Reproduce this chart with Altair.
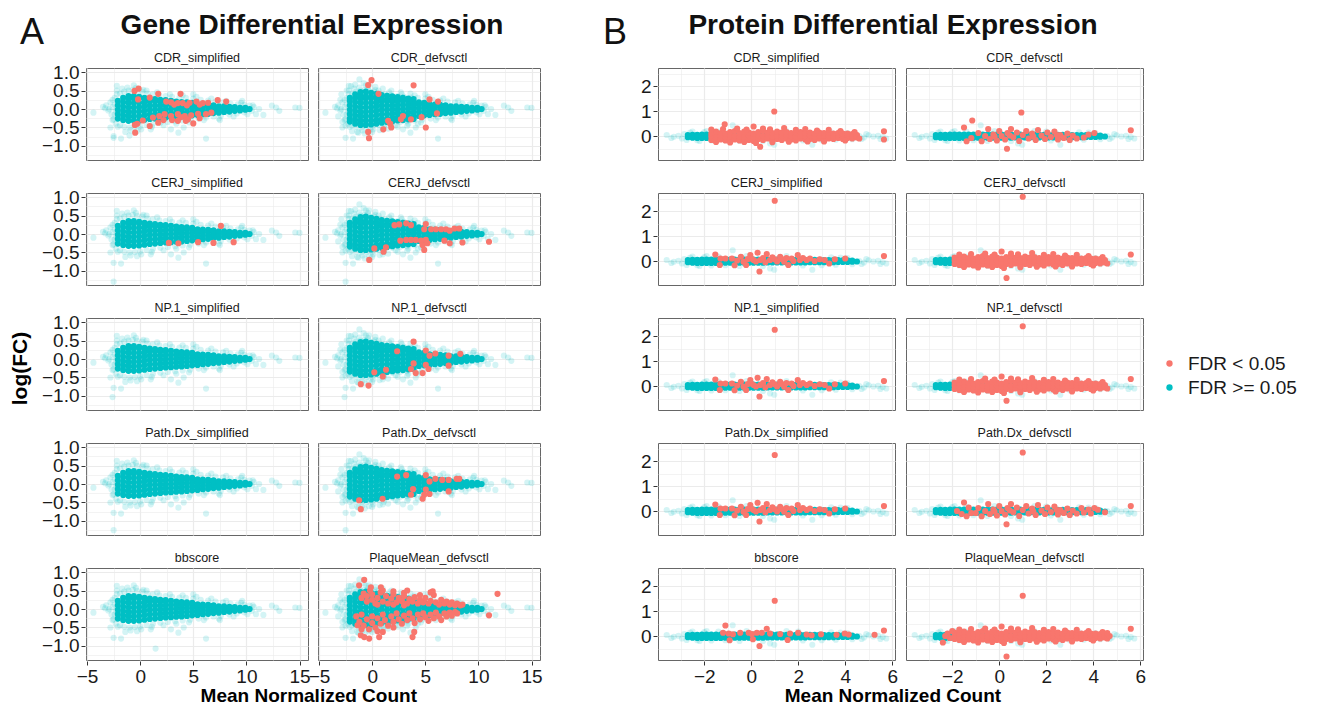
import altair as alt
import pandas as pd

FONT = "Liberation Sans"
STATUS = ["FDR < 0.05", "FDR >= 0.05"]
COLORS = ["#F8766D", "#00BFC4"]

PANELS = ["CDR_simplified", "CDR_defvsctl", "CERJ_simplified", "CERJ_defvsctl",
          "NP.1_simplified", "NP.1_defvsctl", "Path.Dx_simplified", "Path.Dx_defvsctl",
          "bbscore", "PlaqueMean_defvsctl"]
WIDE = ["CDR_defvsctl", "CERJ_defvsctl", "NP.1_defvsctl", "Path.Dx_defvsctl", "PlaqueMean_defvsctl"]

# ---------------- gene panels (A) ----------------
gene_core_cols = [
    (-2.1, [-0.26, -0.14, -0.02, 0.10, 0.22]),
    (-1.6, [-0.30, -0.18, -0.06, 0.06, 0.18, 0.30]),
    (-1.1, [-0.32, -0.20, -0.08, 0.04, 0.16, 0.28, 0.35]),
    (-0.6, [-0.32, -0.20, -0.08, 0.04, 0.16, 0.28, 0.35]),
    (-0.1, [-0.31, -0.19, -0.07, 0.05, 0.17, 0.29, 0.33]),
    (0.4, [-0.29, -0.17, -0.05, 0.07, 0.19, 0.30]),
    (0.9, [-0.27, -0.15, -0.03, 0.09, 0.20, 0.28]),
    (1.4, [-0.26, -0.14, -0.02, 0.09, 0.20, 0.27]),
    (1.9, [-0.24, -0.13, -0.02, 0.09, 0.20, 0.25]),
    (2.4, [-0.23, -0.12, -0.01, 0.10, 0.21, 0.24]),
    (2.9, [-0.22, -0.11, 0.00, 0.11, 0.22]),
    (3.4, [-0.21, -0.10, 0.01, 0.11, 0.20]),
    (3.9, [-0.20, -0.09, 0.02, 0.12, 0.19]),
    (4.4, [-0.19, -0.08, 0.02, 0.11, 0.18]),
    (4.9, [-0.17, -0.07, 0.03, 0.12, 0.17]),
    (5.4, [-0.16, -0.06, 0.04, 0.13]),
    (5.9, [-0.14, -0.05, 0.04, 0.12]),
    (6.4, [-0.13, -0.04, 0.05, 0.11]),
    (6.9, [-0.11, -0.02, 0.06, 0.10]),
    (7.4, [-0.10, -0.01, 0.07]),
    (7.9, [-0.08, 0.00, 0.07]),
    (8.4, [-0.07, 0.01, 0.06]),
    (8.9, [-0.05, 0.02, 0.05]),
    (9.4, [-0.04, 0.03]),
    (9.9, [-0.02, 0.03]),
    (10.3, [0.00]),
]
gene_fringe = [
    (-4.4, -0.10), (-3.5, 0.06), (-3.3, 0.02), (-3.2, 0.10), (-3.0, -0.04), (-2.8, 0.18),
    (-2.7, -0.15), (-2.6, 0.05), (-2.5, -0.28), (-2.4, 0.30), (-2.3, -0.05), (-2.2, 0.40), (-2.3, -0.40),
    (-1.9, 0.42), (-1.5, 0.47), (-1.1, 0.50), (-0.7, 0.52), (-0.3, 0.49), (0.2, 0.47), (0.7, 0.42),
    (1.2, 0.40), (1.8, 0.37), (2.4, 0.35), (3.0, 0.33), (3.7, 0.31), (4.3, 0.30), (5.0, 0.28),
    (5.7, 0.25), (6.4, 0.23), (7.1, 0.20), (7.8, 0.18), (8.5, 0.15), (9.2, 0.13), (9.8, 0.11), (10.3, 0.09),
    (-1.9, -0.44), (-1.5, -0.48), (-1.0, -0.50), (-0.5, -0.49), (0.0, -0.47), (0.6, -0.43), (1.2, -0.40),
    (1.9, -0.37), (2.6, -0.35), (3.3, -0.33), (4.0, -0.31), (4.7, -0.29), (5.5, -0.26), (6.2, -0.23),
    (6.9, -0.20), (7.6, -0.18), (8.4, -0.15), (9.1, -0.12), (9.8, -0.09), (10.5, -0.05),
    (-2.2, 0.63), (-0.6, 0.64), (0.3, 0.52), (-2.8, -0.50), (-2.5, -0.78), (-1.8, -0.80), (-1.4, -0.62),
    (-0.3, -0.60), (2.9, -0.55), (3.6, -0.64), (4.1, -0.50), (6.2, -0.80), (9.6, 0.22), (10.7, 0.05),
    (10.9, -0.14), (11.2, 0.00), (11.6, -0.16), (12.4, 0.09), (12.8, 0.04), (13.1, -0.05), (14.6, 0.04),
    (15.0, 0.03), (1.0, -0.55), (5.0, 0.40), (7.5, -0.30),
    (-2.6, 0.25), (-2.6, -0.30), (-2.4, 0.12), (-2.4, -0.15), (-2.9, 0.00), (-2.2, 0.50), (-2.1, -0.48),
    (-1.7, 0.55), (-1.2, 0.58), (-0.9, -0.58), (-0.4, 0.57), (0.1, -0.55), (0.6, 0.50), (1.1, -0.48),
    (1.6, 0.45), (2.2, -0.44), (2.8, 0.40), (3.4, -0.40), (4.0, 0.37), (4.6, -0.36), (5.3, 0.33),
    (6.0, -0.30), (6.7, 0.28), (7.4, -0.26), (8.1, 0.22), (8.8, -0.20), (9.5, 0.17), (10.1, -0.14),
    (10.6, 0.10),
]
gene_wide_core = [
    (-2.1, 0.30), (-2.1, -0.34), (-1.6, 0.40), (-1.6, -0.40), (-1.1, 0.46), (-1.1, -0.43), (-0.6, 0.47),
    (-0.6, -0.43), (-0.1, 0.44), (-0.1, -0.42), (0.4, 0.41), (0.4, -0.40), (0.9, 0.38), (0.9, -0.37),
    (1.4, 0.36), (1.4, -0.35), (1.9, 0.34), (1.9, -0.33), (2.4, 0.32), (2.4, -0.31), (2.9, 0.30),
    (2.9, -0.30), (3.4, 0.28), (3.4, -0.28), (3.9, 0.27), (3.9, -0.27),
]
gene_wide_fringe = [
    (-2.4, 0.50), (-2.0, 0.62), (-1.6, 0.66), (-1.2, 0.80), (-0.8, 0.70), (-0.3, 0.64), (0.3, 0.60),
    (1.0, 0.55), (1.8, 0.50), (2.7, 0.45), (3.6, 0.42), (-2.5, -0.45), (-1.9, -0.60), (-1.3, -0.64),
    (-0.7, -0.66), (0.0, -0.62), (0.7, -0.57), (1.5, -0.53), (2.4, -0.48), (3.3, -0.45), (4.3, -0.40),
    (-3.0, 0.25), (-3.2, -0.20), (-2.9, 0.40), (-2.8, -0.35),
]
gene_cyan_extra = {
    "CDR_simplified": [(-2.5, -0.73), (-1.0, -0.72)],
    "CERJ_simplified": [(-2.5, -1.29)], "CERJ_defvsctl": [(-2.5, -1.29)],
    "NP.1_simplified": [(-2.6, -1.03)], "NP.1_defvsctl": [(-2.6, -1.03)],
    "Path.Dx_simplified": [(-2.5, -1.25)], "Path.Dx_defvsctl": [(-2.5, -1.25)],
    "bbscore": [(1.45, -1.07)],
}
gene_red = {
    "CDR_simplified": [
        (-0.53, 0.49), (-0.15, 0.55), (-0.2, 0.26), (0.9, 0.31), (1.7, 0.41), (3.8, 0.41),
        (2.45, 0.2), (2.9, 0.18), (3.55, 0.16), (4.0, 0.16), (4.65, 0.17), (5.3, 0.2), (5.9, 0.16),
        (6.4, 0.17), (7.3, 0.24), (8.1, 0.2), (3.2, 0.12), (4.4, 0.1), (5.6, 0.12),
        (1.2, -0.23), (1.8, -0.19), (2.3, -0.14), (2.9, -0.19), (3.55, -0.14), (4.2, -0.19), (4.8, -0.17),
        (5.45, -0.13), (6.2, -0.14), (6.7, -0.1), (2.2, -0.3), (3.0, -0.3), (3.8, -0.22), (4.5, -0.28),
        (5.6, -0.25), (1.7, -0.37), (3.55, -0.32), (4.3, -0.32), (5.0, -0.39), (0.25, -0.31),
        (0.9, -0.46), (-0.5, -0.43), (-0.28, -0.4), (-0.47, -0.64)],
    "CDR_defvsctl": [
        (-0.06, 0.78), (-0.38, 0.65), (0.6, 0.41), (3.9, 0.64), (5.4, 0.26), (6.2, 0.2), (6.1, -0.12),
        (4.65, -0.22), (3.65, -0.28), (2.7, -0.28), (2.9, -0.19), (1.5, -0.32), (1.7, -0.4), (1.8, -0.5),
        (1.05, -0.55), (5.05, -0.5), (-0.38, -0.62), (-0.3, -0.79)],
    "CERJ_simplified": [(2.7, -0.24), (3.6, -0.25), (5.45, -0.22), (6.9, -0.24), (7.6, 0.22), (8.8, -0.22)],
    "CERJ_defvsctl": [
        (2.1, 0.24), (2.55, 0.26), (3.2, 0.29), (3.65, 0.24), (5.05, 0.27), (4.9, 0.13), (5.55, 0.13),
        (6.0, 0.13), (6.5, 0.13), (6.95, 0.13), (7.3, 0.09), (7.75, 0.15), (8.2, 0.15), (2.65, -0.18),
        (3.2, -0.16), (3.65, -0.16), (4.1, -0.16), (4.6, -0.18), (5.05, -0.16), (5.2, -0.25), (4.75, -0.3),
        (4.9, -0.43), (6.8, -0.18), (7.3, -0.25), (8.5, -0.23), (11.0, -0.21), (1.3, -0.36), (1.07, -0.48),
        (0.2, -0.39), (-0.28, -0.7)],
    "NP.1_simplified": [],
    "NP.1_defvsctl": [
        (3.9, 0.47), (2.35, 0.21), (5.05, 0.23), (5.4, 0.09), (5.95, 0.15), (7.2, 0.09), (8.3, 0.14),
        (3.9, -0.12), (3.65, -0.27), (4.1, -0.38), (4.75, -0.38), (5.05, -0.16), (5.3, -0.27), (7.2, -0.18),
        (1.3, -0.29), (1.0, -0.47), (0.2, -0.36), (-1.07, -0.68), (-0.34, -0.72)],
    "Path.Dx_simplified": [],
    "Path.Dx_defvsctl": [
        (2.35, 0.2), (3.2, 0.24), (5.05, 0.24), (5.4, 0.07), (5.95, 0.14), (6.6, 0.11), (7.2, 0.11),
        (7.95, 0.14), (8.2, 0.14), (3.85, -0.14), (5.05, -0.15), (5.4, -0.27), (7.2, -0.2), (3.65, -0.29),
        (4.9, -0.29), (4.75, -0.4), (0.98, -0.4), (-1.23, -0.44), (-1.07, -0.68)],
    "bbscore": [],
    "PlaqueMean_defvsctl": [
        (-1.0, 0.3), (-0.8, 0.42), (-0.5, 0.2), (-0.5, 0.35), (0.0, 0.25), (0.0, 0.4), (0.3, 0.15),
        (0.5, 0.3), (0.8, 0.45), (1.0, 0.2), (1.3, 0.35), (1.5, 0.15), (1.8, 0.28), (2.0, 0.4), (2.3, 0.18),
        (2.5, 0.3), (2.8, 0.22), (3.0, 0.35), (3.3, 0.15), (3.5, 0.27), (3.8, 0.2), (4.0, 0.32), (4.3, 0.15),
        (4.5, 0.25), (4.8, 0.18), (5.0, 0.3), (5.3, 0.15), (5.5, 0.22), (5.8, 0.38), (6.0, 0.18), (6.3, 0.12),
        (6.5, 0.25), (6.8, 0.15), (7.0, 0.2), (7.3, 0.12), (7.5, 0.18), (7.8, 0.1), (8.0, 0.15), (8.3, 0.1),
        (8.5, 0.12), (-0.2, 0.5), (1.0, 0.5), (2.0, 0.48), (3.0, 0.44), (4.5, 0.38), (0.5, 0.12), (2.0, 0.12),
        (3.0, 0.1),
        (-1.5, -0.2), (-1.2, -0.35), (-1.0, -0.15), (-0.8, -0.45), (-0.5, -0.28), (-0.3, -0.55), (0.0, -0.2),
        (0.0, -0.38), (0.3, -0.5), (0.5, -0.25), (0.8, -0.4), (1.0, -0.15), (1.2, -0.3), (1.5, -0.45),
        (1.8, -0.2), (2.0, -0.35), (2.3, -0.12), (2.5, -0.28), (2.8, -0.4), (3.0, -0.18), (3.3, -0.3),
        (3.5, -0.12), (3.8, -0.25), (4.0, -0.38), (4.3, -0.15), (4.5, -0.28), (4.8, -0.12), (5.0, -0.22),
        (5.3, -0.32), (5.5, -0.15), (5.8, -0.25), (6.0, -0.1), (6.3, -0.2), (6.5, -0.3), (6.8, -0.12),
        (7.0, -0.2), (7.3, -0.1), (7.5, -0.18), (7.8, -0.08), (8.0, -0.12), (-1.0, -0.55), (0.5, -0.6),
        (2.0, -0.5), (1.0, -0.62),
        (-0.75, 0.79), (-1.23, 0.64), (-0.12, 0.59), (0.82, 0.59), (3.3, 0.5), (5.7, 0.48), (5.5, 0.45),
        (11.8, 0.41), (11.0, -0.17), (-1.07, -0.71), (-0.28, -0.8), (-0.75, -0.76), (0.66, -0.76),
        (3.96, -0.62), (3.8, -0.76), (-1.38, -0.44)],
}

# ---------------- protein panels (B) ----------------
prot_core_cols = [
    (-2.7, [-0.05, 0.04]), (-2.5, [-0.07, 0.05]), (-2.3, [-0.08, 0.05]), (-2.1, [-0.08, 0.06]),
    (-1.9, [-0.08, 0.06]), (-1.7, [-0.08, 0.06]), (-1.5, [-0.08, 0.06]), (-1.3, [-0.08, 0.06]),
    (-1.1, [-0.07, 0.06]), (-0.9, [-0.07, 0.06]), (-0.7, [-0.07, 0.06]), (-0.5, [-0.07, 0.06]),
    (-0.3, [-0.07, 0.06]), (-0.1, [-0.07, 0.06]), (0.1, [-0.07, 0.06]), (0.3, [-0.07, 0.06]),
    (0.5, [-0.07, 0.06]), (0.7, [-0.06, 0.06]), (0.9, [-0.06, 0.06]), (1.1, [-0.06, 0.06]),
    (1.3, [-0.06, 0.05]), (1.5, [-0.06, 0.05]), (1.7, [-0.06, 0.05]), (1.9, [-0.06, 0.05]),
    (2.1, [-0.06, 0.05]), (2.3, [-0.06, 0.05]), (2.5, [-0.05, 0.05]), (2.7, [-0.05, 0.05]),
    (2.9, [-0.05, 0.05]), (3.1, [-0.05, 0.04]), (3.3, [-0.05, 0.04]), (3.5, [-0.05, 0.04]),
    (3.7, [-0.04, 0.04]), (3.9, [-0.04, 0.03]), (4.1, [-0.04, 0.03]), (4.3, [-0.03, 0.02]),
    (4.5, [-0.02]),
]
prot_fringe = [
    (-3.6, 0.04), (-3.3, -0.03), (-3.1, 0.01), (-2.95, -0.10), (-2.85, 0.08), (-2.75, -0.16),
    (-2.6, 0.14), (-2.3, -0.17), (-2.0, 0.16), (-1.7, -0.18), (-1.4, 0.18), (-1.1, -0.17),
    (-0.79, 0.43), (0.8, -0.30), (2.6, -0.35), (0.98, -0.35), (4.6, 0.00), (4.8, -0.06), (5.0, 0.03),
    (5.2, -0.02), (5.4, 0.01), (5.6, -0.04), (5.75, -0.10), (5.5, -0.12), (4.3, -0.13), (3.8, 0.14),
    (4.9, 0.08), (-0.5, -0.20), (1.5, 0.20), (3.0, -0.17),
    (-3.4, -0.08), (-2.5, 0.18), (-2.2, -0.2), (-1.9, 0.2), (-0.2, 0.2), (0.5, -0.2), (2.0, 0.18),
    (2.2, -0.18), (3.4, 0.15), (3.6, -0.15), (4.1, 0.12), (4.7, -0.12),
]
prot_red_dense_cols = [
    (-1.9, [-0.12, 0.02, 0.14]), (-1.7, [-0.16, -0.02, 0.10]), (-1.5, [-0.10, 0.04, 0.18]),
    (-1.3, [-0.14, 0.00, 0.12]), (-1.1, [-0.18, -0.04, 0.10]), (-0.9, [-0.10, 0.04, 0.16]),
    (-0.7, [-0.14, 0.00, 0.20]), (-0.5, [-0.18, -0.02, 0.12]), (-0.3, [-0.12, 0.04, 0.18]),
    (-0.1, [-0.16, 0.00, 0.14]), (0.1, [-0.20, -0.04, 0.10]), (0.3, [-0.12, 0.02, 0.16]),
    (0.5, [-0.16, 0.00, 0.20]), (0.7, [-0.10, 0.04, 0.14]), (0.9, [-0.18, -0.02, 0.12]),
    (1.1, [-0.12, 0.02, 0.18]), (1.3, [-0.16, 0.00, 0.14]), (1.5, [-0.10, 0.04, 0.16]),
    (1.7, [-0.14, 0.00, 0.12]), (1.9, [-0.18, -0.02, 0.14]), (2.1, [-0.10, 0.02, 0.16]),
    (2.3, [-0.14, 0.00, 0.12]), (2.5, [-0.12, 0.02, 0.14]), (2.7, [-0.16, -0.02, 0.10]),
    (2.9, [-0.10, 0.02, 0.14]), (3.1, [-0.14, 0.00, 0.12]), (3.3, [-0.10, 0.02, 0.14]),
    (3.5, [-0.12, 0.00, 0.10]), (3.7, [-0.08, 0.04, 0.12]), (3.9, [-0.12, 0.00, 0.10]),
    (4.1, [-0.08, 0.02, 0.10]), (4.3, [-0.10, 0.00, 0.08]), (4.5, [-0.06, 0.04]),
]
prot_red_dense_bumps = [
    (-1.7, 0.26), (-1.2, 0.28), (-0.6, 0.30), (-0.2, 0.26), (0.1, 0.38), (0.5, 0.30), (0.8, 0.27),
    (1.4, 0.32), (1.9, 0.25), (2.3, 0.28), (2.8, 0.22), (3.3, 0.25), (3.8, 0.20), (-1.5, -0.24),
    (-0.9, -0.26), (-0.3, -0.24), (0.2, -0.28), (0.9, -0.25), (1.6, -0.23), (2.4, -0.22), (3.1, -0.22),
    (4.0, -0.18), (4.4, 0.16), (4.6, -0.10),
]
prot_red_mid = [
    (-1.5, 0.34), (-1.39, -0.21), (-1.19, -0.08), (-0.89, 0.12), (-0.75, -0.21), (-0.6, 0.0), (-0.47, 0.28),
    (-0.4, -0.12), (-0.25, 0.06), (-0.1, -0.18), (0.0, 0.2), (0.1, 0.0), (0.25, -0.14), (0.35, 0.12),
    (0.5, 0.28), (0.6, -0.05), (0.75, 0.14), (0.85, -0.2), (1.0, 0.04), (1.15, 0.2), (1.25, -0.1),
    (1.4, 0.1), (1.55, -0.16), (1.65, 0.24), (1.8, 0.02), (1.95, -0.12), (2.05, 0.14), (2.2, -0.04),
    (2.35, 0.18), (2.5, -0.14), (2.6, 0.04), (2.75, -0.08), (2.9, 0.1), (3.0, -0.16), (3.13, 0.02),
    (3.3, -0.1), (3.6, -0.06), (3.8, 0.06), (4.05, 0.12), (0.45, 0.02), (1.45, -0.02), (2.45, 0.04),
    (-0.2, -0.02),
]
prot_red_simpl = [
    (-1.53, 0.26), (-1.31, 0.1), (-1.34, -0.16), (-1.1, 0.1), (-0.82, 0.1), (-0.71, -0.17), (-0.44, 0.17),
    (-0.33, -0.03), (-0.22, -0.16), (-0.04, 0.24), (0.1, 0.04), (0.27, 0.33), (0.38, 0.04), (0.35, -0.42),
    (0.66, 0.28), (0.8, 0.04), (1.0, 0.07), (1.23, 0.17), (1.4, -0.03), (1.58, -0.16), (1.72, 0.1),
    (1.98, 0.24), (2.07, 0.04), (2.36, 0.04), (2.92, 0.07), (3.13, 0.04), (3.32, -0.1), (3.56, 0.07),
    (4.0, 0.1), (5.65, 0.2), (0.0, 0.1), (0.2, -0.02), (0.5, 0.12), (0.6, -0.05), (0.9, 0.15),
    (1.1, -0.02), (1.3, 0.08), (1.5, 0.12), (1.8, 0.0), (2.2, 0.12), (2.5, 0.1), (2.7, 0.0),
    (-0.6, 0.02), (-0.15, 0.08),
]
prot_red_bb = [
    (-1.1, 0.42), (-1.2, 0.13), (-0.96, 0.1), (-0.78, 0.07), (-0.47, 0.13), (-0.11, 0.13), (0.03, 0.08),
    (0.24, 0.13), (0.45, 0.13), (0.66, 0.29), (0.8, 0.1), (1.23, 0.08), (1.65, 0.1), (2.0, 0.13),
    (2.36, 0.06), (2.57, 0.03), (2.97, 0.07), (3.63, 0.05), (3.98, 0.1), (4.15, 0.06), (5.25, 0.05),
    (5.65, 0.22), (-0.92, -0.17), (0.07, -0.13), (0.35, -0.4), (1.55, -0.16), (1.0, 1.41),
]
prot_red_path_extra = [(-1.8, 0.0), (-1.6, -0.12), (-1.3, 0.14), (-1.0, -0.08), (3.5, 0.12), (3.9, -0.1),
                       (4.2, 0.05), (4.5, -0.05)]
prot_plaque_extra = [(-2.2, 0.1), (-2.1, -0.08), (-2.0, 0.2), (-2.3, 0.0), (4.7, 0.0), (4.6, 0.12)]
prot_outliers = {
    "CDR_simplified": [(0.98, 0.98), (-1.13, 0.47), (5.65, 0.19), (5.65, -0.14), (0.38, -0.43)],
    "CDR_defvsctl": [(0.94, 0.94), (-1.15, 0.62), (0.33, -0.51), (5.6, 0.23)],
    "CERJ_simplified": [(1.0, 2.41)],
    "CERJ_defvsctl": [(1.0, 2.57), (5.6, 0.26), (0.31, -0.68)],
    "NP.1_simplified": [(1.0, 2.25)],
    "NP.1_defvsctl": [(1.0, 2.39), (5.6, 0.28), (0.31, -0.59)],
    "Path.Dx_simplified": [(1.0, 2.24)],
    "Path.Dx_defvsctl": [(1.0, 2.34), (5.6, 0.20), (0.31, -0.53)],
    "bbscore": [],
    "PlaqueMean_defvsctl": [(1.0, 1.61), (5.6, 0.29), (0.31, -0.82), (-2.4, -0.26)],
}


def expand(cols):
    return [(x, y) for x, ys in cols for y in ys]


dense = expand(prot_red_dense_cols) + prot_red_dense_bumps
prot_red = {
    "CDR_simplified": [p for p in dense if p[0] >= -1.7],
    "CDR_defvsctl": prot_red_mid,
    "CERJ_simplified": prot_red_simpl,
    "CERJ_defvsctl": dense,
    "NP.1_simplified": prot_red_simpl,
    "NP.1_defvsctl": dense,
    "Path.Dx_simplified": prot_red_simpl,
    "Path.Dx_defvsctl": prot_red_mid + prot_red_path_extra,
    "bbscore": prot_red_bb,
    "PlaqueMean_defvsctl": dense + prot_plaque_extra,
}
for k, v in prot_outliers.items():
    prot_red[k] = list(prot_red[k]) + v


def build(core, fringe, red_map, wide_core=(), wide_fringe=(), extra=None):
    extra = extra or {}
    rows = []
    for p in PANELS:
        wide = p in WIDE
        fr = list(fringe) + (list(wide_fringe) if wide else []) + extra.get(p, [])
        co = list(core) + (list(wide_core) if wide else [])
        rows += [(p, x, y, STATUS[1], "fringe") for x, y in fr]
        rows += [(p, x, y, STATUS[1], "core") for x, y in co]
        rows += [(p, x, y, STATUS[0], "red") for x, y in red_map[p]]
    return pd.DataFrame(rows, columns=["panel", "x", "y", "status", "kind"])


gene_df = build(expand(gene_core_cols), gene_fringe, gene_red, gene_wide_core, gene_wide_fringe, gene_cyan_extra)
prot_df = build(expand(prot_core_cols), prot_fringe, prot_red)


def cond(test, minor_val, major_val):
    return {"condition": {"test": test, "value": minor_val}, "value": major_val}


def make_axis(values, minor_test, fmt):
    return alt.Axis(values=values, format=fmt, labelExpr=f"({minor_test}) ? '' : datum.label",
                    gridWidth=cond(minor_test, 0.6, 1.2), tickOpacity=cond(minor_test, 0, 1),
                    labelOverlap=False, labelFlush=False)


def facet_chart(df, xdom, xaxis, ydom, yaxis, width, col_gap, title_dx):
    base = alt.Chart(df).mark_circle(size=38).encode(
        x=alt.X("x:Q", scale=alt.Scale(domain=xdom, nice=False, zero=False), axis=xaxis, title=None),
        y=alt.Y("y:Q", scale=alt.Scale(domain=ydom, nice=False, zero=False), axis=yaxis, title=None),
        color=alt.Color("status:N", scale=alt.Scale(domain=STATUS, range=COLORS),
                        legend=alt.Legend(title=None, orient="none", legendX=1074, legendY=345,
                                          labelFontSize=19, labelFont=FONT, symbolType="circle",
                                          symbolSize=40, symbolOpacity=1, rowPadding=4, labelOffset=9,
                                          labelColor="#1a1a1a")),
        opacity=alt.condition(alt.datum.kind == "fringe", alt.value(0.17), alt.value(1.0)),
    ).properties(width=width, height=92)
    return base.facet(
        facet=alt.Facet("panel:N", sort=PANELS, title=None,
                        header=alt.Header(labelFont=FONT, labelFontSize=12.5, labelColor="#1a1a1a",
                                          labelPadding=4)),
        columns=2, spacing={"row": 15, "column": col_gap},
    ).properties(title=alt.TitleParams("Mean Normalized Count", orient="bottom", anchor="middle",
                                       fontSize=19, fontWeight="bold", font=FONT, color="#000000",
                                       dx=title_dx, offset=1))


gene = facet_chart(
    gene_df, [-5.1, 15.8],
    make_axis([-5, -2.5, 0, 2.5, 5, 7.5, 10, 12.5, 15], "datum.value % 5 !== 0", ".0f"),
    [-1.38, 1.11],
    make_axis([-1.25, -1.0, -0.75, -0.5, -0.25, 0, 0.25, 0.5, 0.75, 1.0], "(datum.value * 2) % 1 !== 0", ".1f"),
    222, 8, 17)
prot = facet_chart(
    prot_df, [-3.97, 6.12],
    make_axis([-3, -2, -1, 0, 1, 2, 3, 4, 5, 6], "datum.value % 2 !== 0", ".0f"),
    [-0.96, 2.72],
    make_axis([-0.5, 0, 0.5, 1, 1.5, 2, 2.5], "datum.value % 1 !== 0", ".0f"),
    237, 9, 0)

gene_block = alt.hconcat(gene).properties(
    title=alt.TitleParams("log(FC)", orient="left", anchor="middle", fontSize=21, fontWeight="bold",
                          font=FONT, color="#000000", offset=10, dx=10))


def label(t, x, y, size, weight, align):
    return alt.Chart(pd.DataFrame({"t": [t]})).mark_text(
        fontSize=size, fontWeight=weight, align=align, baseline="alphabetic", font=FONT, color="#111111"
    ).encode(text="t:N", x=alt.value(x), y=alt.value(y))


# header origin sits at the left edge of the first gene panel
header = alt.layer(
    label("A", -66, 35, 36, "normal", "left"),
    label("Gene Differential Expression", 226, 25, 28, "bold", "center"),
    label("B", 517, 35, 36, "normal", "left"),
    label("Protein Differential Expression", 807, 25, 28, "bold", "center"),
).properties(width=1000, height=59, view=alt.ViewBackground(stroke="transparent"))

body = alt.hconcat(gene_block, prot, spacing=97)

chart = alt.vconcat(header, body, spacing=0, bounds="flush").properties(
    padding={"left": 2, "top": 0, "right": 0, "bottom": 0}
).configure(font=FONT).configure_view(
    stroke="#666666", strokeWidth=1
).configure_axis(
    labelFont=FONT, labelFontSize=19, labelColor="#1a1a1a", tickColor="#333333", tickSize=4,
    tickWidth=1, domain=False, gridColor="#EBEBEB", labelPadding=2
)

chart.save("out.html", embed_options={"renderer": "svg", "actions": False})
